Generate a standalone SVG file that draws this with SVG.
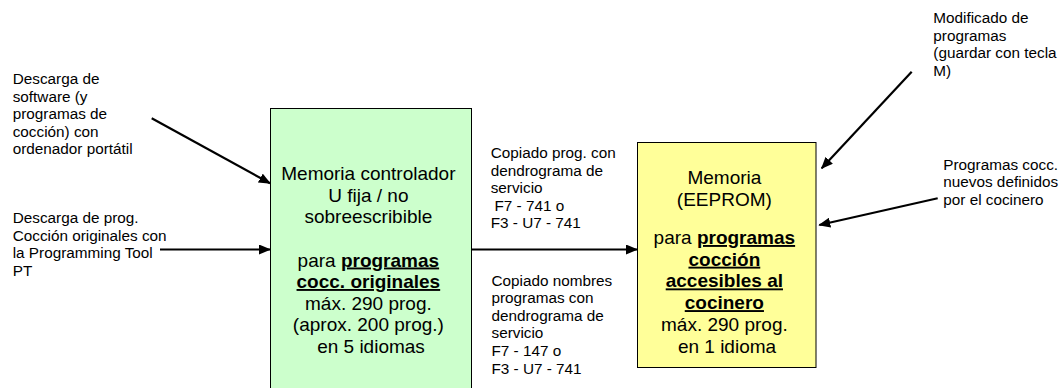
<svg xmlns="http://www.w3.org/2000/svg" width="1060" height="388" viewBox="0 0 1060 388">
<defs>
<style>
.lbl{font-family:"Liberation Sans",Arial,sans-serif;font-size:15.3px;fill:#000}
.box{font-family:"Liberation Sans",Arial,sans-serif;font-size:19px;fill:#000;text-anchor:middle}
.b{font-weight:bold;text-decoration:underline}
.edge{stroke:#000;stroke-width:2.2;fill:none;marker-end:url(#ah)}
</style>
<marker id="ah" viewBox="0 0 12 10" refX="11" refY="5" markerWidth="12" markerHeight="10" markerUnits="userSpaceOnUse" orient="auto">
<path d="M0,0 L12,5 L0,10 Z" fill="#000"/>
</marker>
</defs>
<rect width="1060" height="388" fill="#fff"/>
<g id="node-controller">
<rect x="270.5" y="108.5" width="201" height="290" fill="#CCFFCC" stroke="#000" stroke-width="1"/>
<text class="box">
<tspan x="371" y="180">Memoria controlador</tspan>
<tspan x="371" y="201.5">U fija / no</tspan>
<tspan x="371" y="223">sobreescribible</tspan>
<tspan x="371" y="266.5">para <tspan class="b">programas</tspan></tspan>
<tspan x="371" y="288" class="b">cocc. originales</tspan>
<tspan x="371" y="309.5">máx. 290 prog.</tspan>
<tspan x="371" y="331">(aprox. 200 prog.)</tspan>
<tspan x="371" y="352.5">en 5 idiomas</tspan>
</text>
</g>
<g id="node-eeprom">
<rect x="637.5" y="142.5" width="178.5" height="225" fill="#FFFF99" stroke="#000" stroke-width="1"/>
<text class="box">
<tspan x="727" y="184">Memoria</tspan>
<tspan x="727" y="206">(EEPROM)</tspan>
<tspan x="727" y="244">para <tspan class="b">programas</tspan></tspan>
<tspan x="727" y="265.7" class="b">cocción</tspan>
<tspan x="727" y="287.4" class="b">accesibles al</tspan>
<tspan x="727" y="309.1" class="b">cocinero</tspan>
<tspan x="727" y="330.8">máx. 290 prog.</tspan>
<tspan x="727" y="352.5">en 1 idioma</tspan>
</text>
</g>
<g id="label-software">
<text class="lbl">
<tspan x="12.7" y="84">Descarga de</tspan>
<tspan x="12.7" y="101.6">software (y</tspan>
<tspan x="12.7" y="119.2">programas de</tspan>
<tspan x="12.7" y="136.8">cocción) con</tspan>
<tspan x="12.7" y="154.4">ordenador portátil</tspan>
</text>
</g>
<g id="label-pt">
<text class="lbl">
<tspan x="12.7" y="223">Descarga de prog.</tspan>
<tspan x="12.7" y="240.6">Cocción originales con</tspan>
<tspan x="12.7" y="258.2">la Programming Tool</tspan>
<tspan x="12.7" y="275.8">PT</tspan>
</text>
</g>
<g id="label-copy1">
<text class="lbl">
<tspan x="490.7" y="158">Copiado prog. con</tspan>
<tspan x="490.7" y="175.6">dendrograma de</tspan>
<tspan x="490.7" y="193.2">servicio</tspan>
<tspan x="494.5" y="210.8">F7 - 741 o</tspan>
<tspan x="490.7" y="228.4">F3 - U7 - 741</tspan>
</text>
</g>
<g id="label-copy2">
<text class="lbl">
<tspan x="491.5" y="285.5">Copiado nombres</tspan>
<tspan x="491.5" y="303.1">programas con</tspan>
<tspan x="491.5" y="320.7">dendrograma de</tspan>
<tspan x="491.5" y="338.3">servicio</tspan>
<tspan x="491.5" y="355.9">F7 - 147 o</tspan>
<tspan x="491.5" y="373.5">F3 - U7 - 741</tspan>
</text>
</g>
<g id="label-modify">
<text class="lbl">
<tspan x="933.3" y="23">Modificado de</tspan>
<tspan x="933.3" y="40.6">programas</tspan>
<tspan x="933.3" y="58.2">(guardar con tecla</tspan>
<tspan x="933.3" y="75.8">M)</tspan>
</text>
</g>
<g id="label-new">
<text class="lbl">
<tspan x="943.3" y="169.5">Programas cocc.</tspan>
<tspan x="943.3" y="187.1">nuevos definidos</tspan>
<tspan x="943.3" y="204.7">por el cocinero</tspan>
</text>
</g>
<g id="connectors">
<line class="edge" x1="151.7" y1="118.3" x2="270" y2="183.3"/>
<line class="edge" x1="160" y1="249.5" x2="270" y2="249.5"/>
<line class="edge" x1="471.5" y1="249.5" x2="637" y2="249.5"/>
<line class="edge" x1="911.7" y1="71.7" x2="821.7" y2="168.3"/>
<line class="edge" x1="937.7" y1="198.3" x2="819.3" y2="225"/>
</g>
</svg>
